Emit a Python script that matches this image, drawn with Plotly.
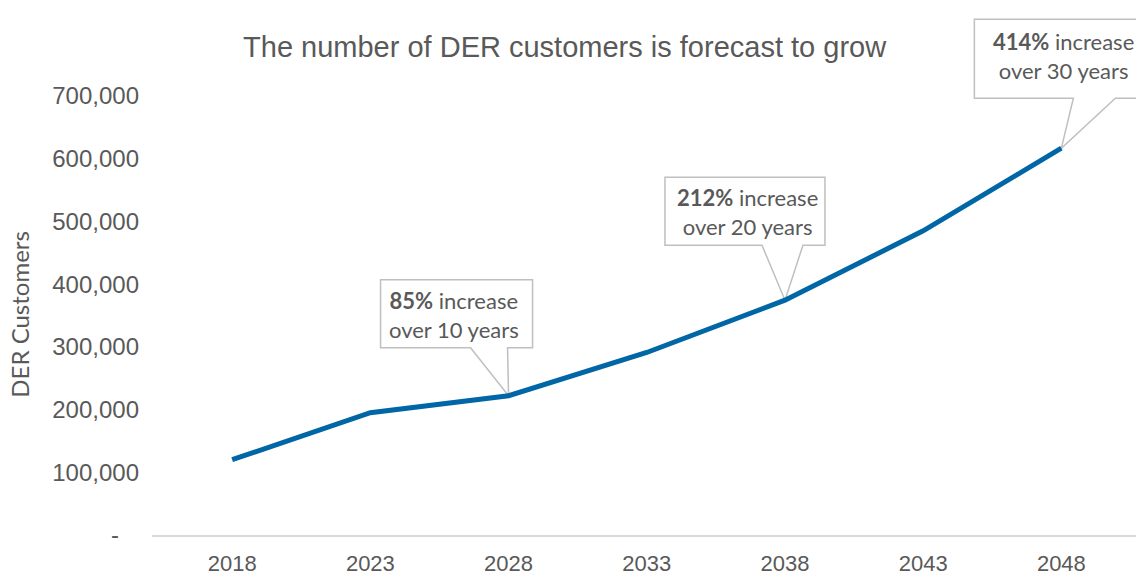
import plotly.graph_objects as go

# Forecast of DER customers, five-year steps
years = [2018, 2023, 2028, 2033, 2038, 2043, 2048]
customers = [120000, 195000, 222000, 291000, 374400, 485000, 616800]

y_tickvals = [0, 100000, 200000, 300000, 400000, 500000, 600000, 700000]
y_ticktext = ["-\u00a0\u00a0\u00a0", "100,000", "200,000", "300,000", "400,000",
              "500,000", "600,000", "700,000"]

# Callouts: year the callout points at, bold figure, rest of the text
callout_years = [2028, 2038, 2048]
callout_pct = ["85%", "212%", "414%"]
callout_span = ["over 10 years", "over 20 years", "over 30 years"]

GREY = "#595959"
BORDER = "#bfbfbf"
BLUE = "#0066a6"

fig = go.Figure()
fig.add_trace(go.Scatter(
    x=years, y=customers, mode="lines",
    line=dict(color=BLUE, width=5),
    hoverinfo="skip", showlegend=False,
))

# box geometry in pixels relative to the point: left, right, bottom, top, wedge left, wedge right
box_geom = [
    (-128, 24, 48, 116, -38, -1),
    (-120, 40, 55, 123, -23, 18),
    (-87, 112, 50, 129, 12, 54),
]
text_shift = [(-55, 81), (-37, 88), (2, 92)]

for yr, pct, span, g, ts in zip(callout_years, callout_pct, callout_span, box_geom, text_shift):
    val = customers[years.index(yr)]
    l, r, b, t, wl, wr = g
    path = (f"M {l},{b} L {l},{t} L {r},{t} L {r},{b} "
            f"L {wr},{b} L 0,0 L {wl},{b} Z")
    fig.add_shape(
        type="path", path=path,
        xref="x", yref="y",
        xsizemode="pixel", ysizemode="pixel",
        xanchor=yr, yanchor=val,
        fillcolor="white", line=dict(color=BORDER, width=1.5),
        layer="below",
    )
    fig.add_annotation(
        x=yr, y=val, xref="x", yref="y",
        xshift=ts[0], yshift=ts[1],
        text=f"<b>{pct}</b> increase<br>{span}",
        showarrow=False, align="center",
        font=dict(family="Lato", size=22, color=GREY),
    )

fig.add_annotation(
    xref="paper", yref="paper", x=-0.135, y=0.42,
    text="DER Customers", textangle=-90, showarrow=False,
    xanchor="center", yanchor="middle",
    font=dict(family="Lato", size=24, color=GREY),
)

fig.update_layout(
    width=1136, height=576,
    margin=dict(l=152, r=0, t=10, b=41),
    paper_bgcolor="white", plot_bgcolor="white",
    title=dict(
        text="The number of DER customers is forecast to grow",
        xref="container", yref="container", x=0.497, y=0.918,
        xanchor="center", yanchor="middle",
        font=dict(family="Liberation Sans", size=29, color=GREY),
    ),
    xaxis=dict(
        range=[2015.1, 2050.7], automargin=False,
        tickvals=years, ticktext=[str(y) for y in years],
        showgrid=False, zeroline=False,
        showline=True, linecolor="#d9d9d9", linewidth=1.5,
        ticks="", ticklabelstandoff=8,
        tickfont=dict(family="Liberation Sans", size=22, color=GREY),
    ),
    yaxis=dict(
        range=[0, 837130], automargin=False,
        tickvals=y_tickvals, ticktext=y_ticktext,
        showgrid=False, zeroline=False, showline=False,
        ticks="", ticklabelstandoff=12,
        tickfont=dict(family="Liberation Sans", size=24, color=GREY),
    ),
)

fig.write_html("out.html")
